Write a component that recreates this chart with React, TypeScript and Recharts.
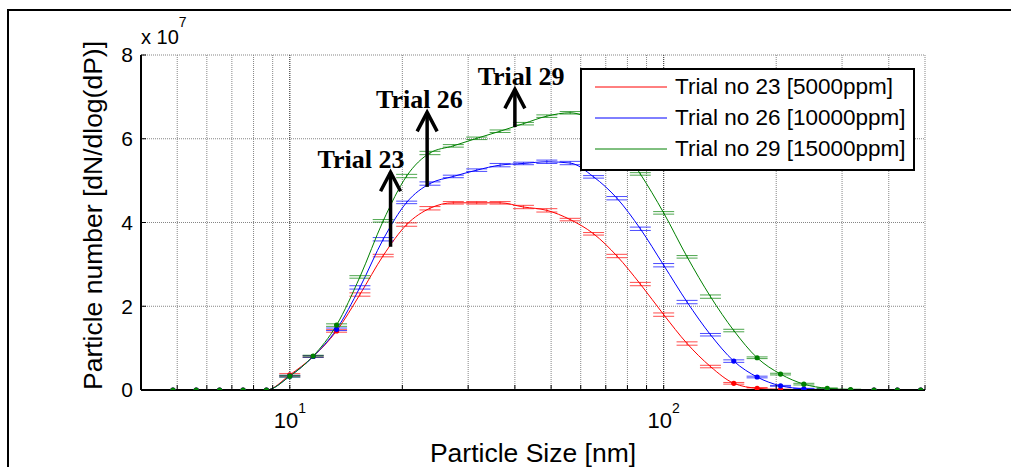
import React from "react";
import {
  LineChart, Line, XAxis, YAxis, CartesianGrid, ErrorBar, Legend, ReferenceLine, Label,
} from "recharts";

// SMPS size channels, 16 per decade (nm)
const sizes = [
  4.87, 5.62, 6.49, 7.5, 8.66, 10, 11.55, 13.34, 15.4, 17.78, 20.54, 23.71, 27.38, 31.62, 36.52, 42.17, 48.7,
  56.23, 64.94, 74.99, 86.6, 100, 115.5, 133.4, 154, 177.8, 205.4, 237.1, 273.8, 316.2, 365.2, 421.7, 487,
];

// dN/dlog(dP), in units of 1e7
const trial23 = [
  0, 0, 0, 0, 0, 0.36, 0.8, 1.41, 2.28, 3.21, 3.95, 4.34, 4.47, 4.47, 4.47, 4.37, 4.29, 4.07, 3.73, 3.2, 2.53,
  1.8, 1.11, 0.56, 0.16, 0.04, 0.01, 0, 0, 0, 0, 0, 0,
];
const trial26 = [
  0, 0, 0, 0, 0, 0.33, 0.8, 1.45, 2.45, 3.6, 4.48, 4.93, 5.1, 5.25, 5.37, 5.41, 5.45, 5.42, 5.09, 4.58, 3.85,
  2.98, 2.1, 1.32, 0.69, 0.31, 0.1, 0.03, 0.01, 0, 0, 0, 0,
];
const trial29 = [
  0, 0, 0, 0, 0, 0.33, 0.81, 1.55, 2.7, 4.04, 5.11, 5.66, 5.83, 6.01, 6.18, 6.36, 6.54, 6.62, 6.42, 5.95, 5.16,
  4.23, 3.18, 2.23, 1.42, 0.77, 0.38, 0.14, 0.04, 0.01, 0, 0, 0,
];

// standard deviation of repeated scans
const trial23Err = [
  0, 0, 0, 0, 0, 0.03, 0.02, 0.03, 0.04, 0.03, 0.04, 0.04, 0.03, 0.03, 0.03, 0.04, 0.04, 0.03, 0.03, 0.04, 0.04,
  0.04, 0.04, 0.03, 0.02, 0.02, 0.01, 0, 0, 0, 0, 0, 0,
];
const trial26Err = [
  0, 0, 0, 0, 0, 0.02, 0.02, 0.03, 0.04, 0.04, 0.03, 0.04, 0.03, 0.03, 0.04, 0.03, 0.04, 0.04, 0.03, 0.04, 0.04,
  0.04, 0.04, 0.03, 0.03, 0.02, 0.01, 0.01, 0.01, 0, 0, 0, 0,
];
const trial29Err = [
  0, 0, 0, 0, 0, 0.02, 0.02, 0.03, 0.03, 0.03, 0.04, 0.04, 0.03, 0.03, 0.03, 0.03, 0.03, 0.03, 0.03, 0.03, 0.03,
  0.03, 0.03, 0.04, 0.03, 0.02, 0.02, 0.02, 0.01, 0.01, 0, 0, 0,
];

const seriesNames = ["Trial no 23 [5000ppm]", "Trial no 26 [10000ppm]", "Trial no 29 [15000ppm]"];
const xTicks = [5, 6, 7, 8, 9, 10, 20, 30, 40, 50, 60, 70, 80, 90, 100, 200, 300, 400, 500];
const yTicks = [0, 2, 4, 6, 8];

// arrow annotations: size (nm), tail and head values (1e7)
const arrows = [
  { text: "Trial 23", size: 18.6, from: 3.42, to: 5.2 },
  { text: "Trial 26", size: 23.3, from: 4.85, to: 6.63 },
  { text: "Trial 29", size: 40, from: 6.28, to: 7.18 },
];
const arrowTextShift = [-29.5, -7.7, 6.2];

const rows = sizes.map((size, i) => ({
  size,
  t23: trial23[i], t23e: trial23Err[i],
  t26: trial26[i], t26e: trial26Err[i],
  t29: trial29[i], t29e: trial29Err[i],
}));

const sans = "'Liberation Sans', Arial, sans-serif";
const serif = "'Liberation Serif', 'Times New Roman', serif";
const W = 1011;
const H = 467;

// markers only on the tails of the distributions
const dotFor = (color: string, key: string) => (p: any) => {
  const v = p.payload[key];
  const show = p.payload.size < 14 || (p.payload.size > 150 && v < 1);
  if (!show || p.cx == null) return <g key={`${key}-${p.index}`} />;
  return <circle key={`${key}-${p.index}`} cx={p.cx} cy={p.cy} r={2.6} fill={color} />;
};

function DecadeTick({ x, y, payload }: any) {
  const exp = Math.log10(payload.value);
  if (Math.abs(exp - Math.round(exp)) > 1e-6) return <g />;
  return (
    <text x={x} y={y + 38} textAnchor="middle" fontFamily={sans} fontSize={22} fill="#000">
      10<tspan dy={-15} fontSize={14}>{Math.round(exp)}</tspan>
    </text>
  );
}

const NoTick = () => <g />;

function Arrow(props: any) {
  const { x1, y1, x2, y2, text, shift } = props;
  return (
    <g>
      <line x1={x1} y1={y1} x2={x2} y2={y2} stroke="#000" strokeWidth={3.5} />
      <polyline
        points={`${x2 - 10},${y2 + 19} ${x2},${y2} ${x2 + 10},${y2 + 19}`}
        fill="none" stroke="#000" strokeWidth={3.5}
      />
      <text x={x2 + shift} y={y2 - 4} textAnchor="middle" fontFamily={serif} fontWeight="bold" fontSize={26} fill="#000">
        {text}
      </text>
    </g>
  );
}

function LegendBox({ payload }: any) {
  return (
    <div style={{ position: "relative", width: 335, height: 103, boxSizing: "border-box", border: "2px solid #000", background: "#fff" }}>
      {(payload || []).map((item: any, i: number) => (
        <div key={item.value} style={{ position: "absolute", left: 13, top: 17 + i * 31 - 15, height: 30, display: "flex", alignItems: "center" }}>
          <svg width={74} height={30}>
            <line x1={0} y1={15} x2={72} y2={15} stroke={item.color} strokeWidth={1} />
          </svg>
          <span style={{ marginLeft: 6, fontFamily: sans, fontSize: 22.5, color: "#000", whiteSpace: "nowrap" }}>{item.value}</span>
        </div>
      ))}
    </div>
  );
}

const series = [
  { key: "t23", err: "t23e", color: "#ff0000", name: seriesNames[0] },
  { key: "t26", err: "t26e", color: "#0000ff", name: seriesNames[1] },
  { key: "t29", err: "t29e", color: "#008000", name: seriesNames[2] },
];

export default function App() {
  return (
    <div style={{ position: "absolute", left: 0, top: 0, width: W, height: H, overflow: "hidden", background: "#fff" }}>
      <div style={{ position: "absolute", left: 7, top: 9, width: W, height: H, borderLeft: "2px solid #000", borderTop: "2px solid #000" }} />
      <LineChart width={W} height={H} data={rows} margin={{ top: 55, right: 86, bottom: 37, left: 81 }}>
        <CartesianGrid stroke="#858585" strokeDasharray="1 1" />
        <ReferenceLine x={10} stroke="#444" strokeDasharray="1 1" />
        <ReferenceLine x={100} stroke="#444" strokeDasharray="1 1" />
        <XAxis
          dataKey="size" type="number" scale="log" domain={[4, 500]} allowDataOverflow ticks={xTicks} interval={0}
          height={40} tickSize={-5} tickMargin={5} tick={DecadeTick}
          axisLine={{ stroke: "#000", strokeWidth: 2 }} tickLine={{ stroke: "#000" }}
        >
          <Label
            content={() => (
              <text x={533} y={462} textAnchor="middle" fontFamily={sans} fontSize={26.5} fill="#000">Particle Size [nm]</text>
            )}
          />
        </XAxis>
        <XAxis
          xAxisId="top" orientation="top" dataKey="size" type="number" scale="log" domain={[4, 500]} allowDataOverflow
          ticks={xTicks} interval={0} height={0} tickSize={-5} tick={NoTick}
          axisLine={{ stroke: "#000", strokeWidth: 2 }} tickLine={{ stroke: "#000" }}
        />
        <YAxis
          domain={[0, 8]} ticks={yTicks} interval={0} width={60} tickSize={-5} tickMargin={13} allowDataOverflow
          tick={{ fontSize: 21, fill: "#000", fontFamily: sans }}
          axisLine={{ stroke: "#000", strokeWidth: 2 }} tickLine={{ stroke: "#000" }}
        >
          <Label
            content={() => (
              <text x={102} y={215.5} transform="rotate(-90 102 215.5)" textAnchor="middle" fontFamily={sans} fontSize={26.5} fill="#000">
                Particle number [dN/dlog(dP)]
              </text>
            )}
          />
          <Label
            content={() => (
              <text x={141} y={43.5} fontFamily={sans} fontSize={20} fill="#000">
                x 10<tspan dy={-17} fontSize={14}>7</tspan>
              </text>
            )}
          />
        </YAxis>
        <YAxis
          yAxisId="right" orientation="right" domain={[0, 8]} ticks={yTicks} interval={0} width={0} tickSize={-5}
          tick={NoTick} axisLine={{ stroke: "#000", strokeWidth: 2 }} tickLine={{ stroke: "#000" }}
        />
        {series.map((s) => (
          <Line
            key={s.key} type="monotone" dataKey={s.key} name={s.name} stroke={s.color} strokeWidth={1}
            dot={dotFor(s.color, s.key)} activeDot={false} isAnimationActive={false}
          >
            <ErrorBar dataKey={s.err} width={10.5} stroke={s.color} strokeOpacity={0.7} strokeWidth={1} direction="y" isAnimationActive={false} />
          </Line>
        ))}
        {arrows.map((a, i) => (
          <ReferenceLine
            key={a.text} ifOverflow="visible"
            segment={[{ x: a.size, y: a.from }, { x: a.size, y: a.to }]}
            shape={(p: any) => <Arrow {...p} text={a.text} shift={arrowTextShift[i]} />}
          />
        ))}
        <Legend
          layout="vertical" align="center" verticalAlign="middle"
          wrapperStyle={{ left: 580, top: 68, width: 335, height: 103 }}
          content={LegendBox}
        />
      </LineChart>
    </div>
  );
}
